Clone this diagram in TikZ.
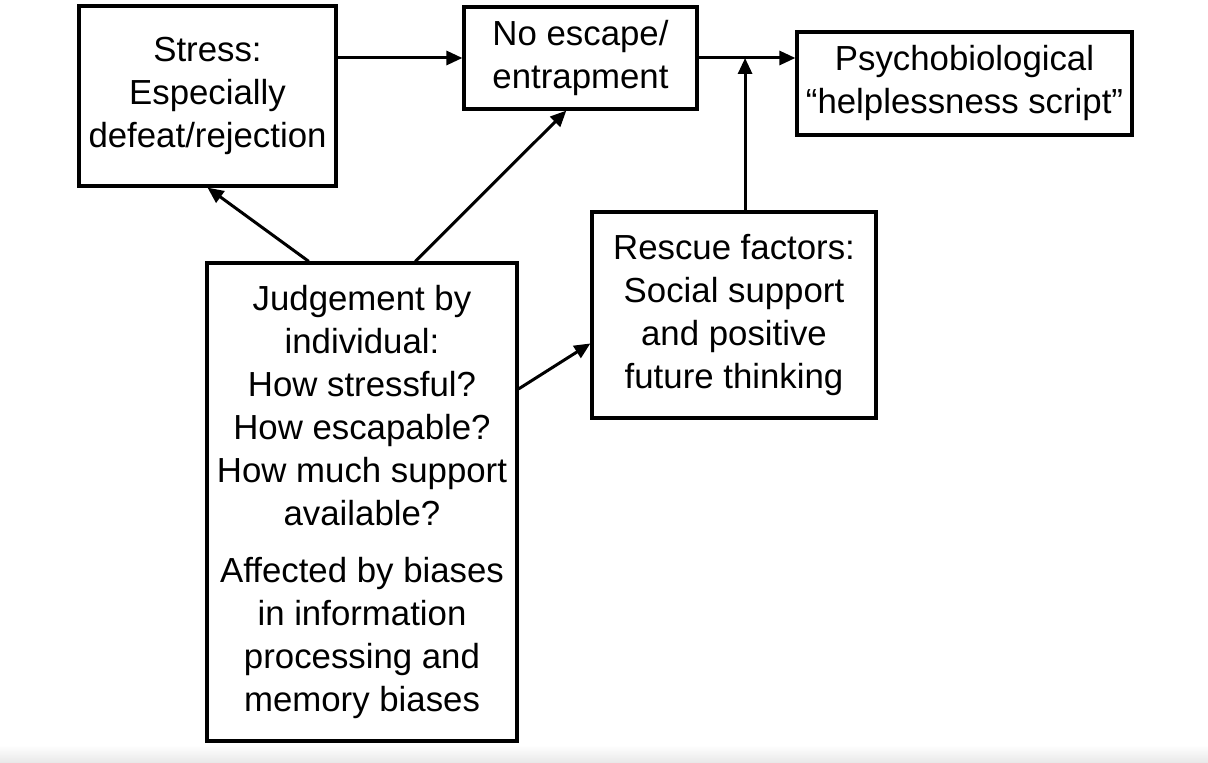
\documentclass[tikz,border=0pt]{standalone}
\usepackage{fontspec}
\setmainfont{Liberation Sans}
\usetikzlibrary{calc,arrows.meta,positioning}
\tikzset{
  ar/.style={-{Triangle[length=8pt,width=7pt]},line width=1.5pt},
  box/.style={draw,line width=1.6pt,align=center,inner sep=1pt,font=\fontsize{17.4}{21.5}\selectfont}
}
\begin{document}
\begin{tikzpicture}[x=0.5pt,y=-0.5pt]
\useasboundingbox (0,0) rectangle (1208,763);
\shade[top color=white,bottom color=black!9] (0,745) rectangle (1208,763);
% boxes
\node[box,minimum width=128.5pt,minimum height=90pt] (stress) at (207.5,96) {Stress:\\Especially\\defeat/rejection};
\node[box,minimum width=116.5pt,minimum height=51pt] (noesc) at (580.5,58) {No escape/\\entrapment};
\node[box,minimum width=167.5pt,minimum height=51.5pt] (psycho) at (964.5,83.5) {Psychobiological\\“helplessness script”};
\node[box,minimum width=142pt,minimum height=103pt] (rescue) at (734,315) {Rescue factors:\\Social support\\and positive\\future thinking};
\node[box,minimum width=155pt,minimum height=239pt] (judge) at (362,502) {Judgement by\\individual:\\How stressful?\\How escapable?\\How much support\\available?\\[7pt]Affected by biases\\in information\\processing and\\memory biases};
% arrows
\coordinate (join) at ($(noesc.east)!0.48!(noesc.east -| psycho.west)$);
\draw[ar] (stress.east |- noesc.west) -- (noesc.west);
\draw[ar] (noesc.east) -- (noesc.east -| psycho.west);
\draw[ar] (rescue.north -| join) -- (join);
\draw[ar] ($(judge.north west)!0.33!(judge.north east)$) -- (stress.south);
\draw[ar] ($(judge.north west)!0.67!(judge.north east)$) -- ($(noesc.south west)!0.44!(noesc.south east)$);
\draw[ar] ($(judge.north east)!0.265!(judge.south east)$) -- ($(rescue.north west)!0.636!(rescue.south west)$);
\end{tikzpicture}
\end{document}
